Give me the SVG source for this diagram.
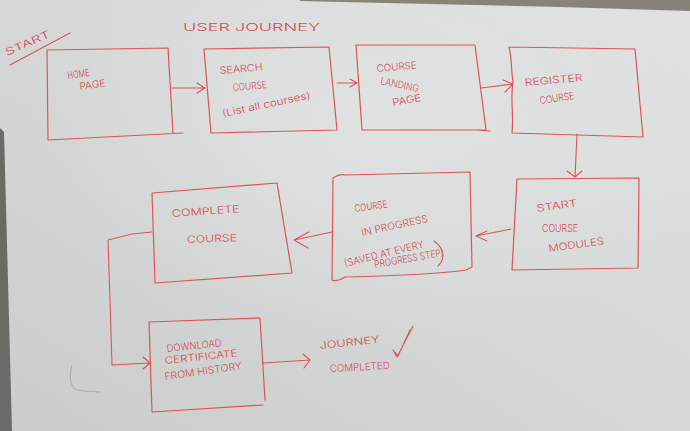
<svg xmlns="http://www.w3.org/2000/svg" width="690" height="431" viewBox="0 0 690 431">
  <defs>
    <linearGradient id="board" x1="0" y1="1" x2="1" y2="0">
      <stop offset="0" stop-color="#cbcccb"/>
      <stop offset="0.5" stop-color="#d6d8d8"/>
      <stop offset="1" stop-color="#e0e1e0"/>
    </linearGradient>
    <radialGradient id="glow" cx="0.55" cy="0.3" r="0.5">
      <stop offset="0" stop-color="#e4e5e5" stop-opacity="0.7"/>
      <stop offset="1" stop-color="#e4e5e5" stop-opacity="0"/>
    </radialGradient>
    <style>
      .box { fill: none; stroke: #dc5459; stroke-width: 1.2; stroke-linejoin: round; stroke-linecap: round; }
      .ln { fill: none; stroke: #dc5459; stroke-width: 1.1; stroke-linecap: round; stroke-linejoin: round; }
      .t { font-family: Inter, "Liberation Sans", "DejaVu Sans", sans-serif; font-weight: 300; fill: #d44a50; font-size: 10px; }
    </style>
  </defs>

  <!-- whiteboard -->
  <rect x="0" y="0" width="690" height="431" fill="url(#board)"/>
  <rect x="0" y="0" width="690" height="431" fill="url(#glow)"/>
  <polygon points="300,0 690,0 690,11 560,7 430,4 300,1" fill="#85837a"/>
  <polygon points="0,128 4,132 12,431 0,431" fill="#6a6b66"/>
  <path d="M72,365 C69,378 70,388 78,390 C84,392 92,391 100,392" fill="none" stroke="#8a92a4" stroke-width="1" opacity="0.6"/>

  <!-- titles -->
  <text class="t" x="183" y="31" font-size="20" textLength="137" lengthAdjust="spacingAndGlyphs">USER JOURNEY</text>
  <text class="t" x="0" y="0" font-size="15" textLength="48" lengthAdjust="spacingAndGlyphs" transform="translate(7,56) rotate(-24)">START</text>
  <path class="ln" d="M10,65 L70,33"/>

  <!-- connectors -->
  <g id="connectors">
    <path class="ln" d="M172,88 L205,88 M197,83 L205,88 L197,93"/>
    <path class="ln" d="M337,83 L357,83 M350,79 L357,83 L350,87"/>
    <path class="ln" d="M481,88 L513,84 M503,80 L513,84 L505,92"/>
    <path class="ln" d="M577,134 L575,177 M567,171 L575,177 L582,171"/>
    <path class="ln" d="M511,229 L476,236 M487,231 L476,236 L487,241"/>
    <path class="ln" d="M332,232 L294,240 M309,232 L294,240 L308,248"/>
    <path class="ln" d="M152,232 L132,234 L108,240 L110,300 L112,365 L150,363 M143,357 L150,363 L143,369"/>
    <path class="ln" d="M263,363 L310,360 M303,354 L310,360 L304,368"/>
  </g>

  <!-- nodes -->
  <g id="home">
    <path class="box" d="M47,50 L168,48 L173,133 M47,50 L48,140 L183,133"/>
    <text class="t" font-size="8" transform="translate(68,79) rotate(-8)" textLength="22" lengthAdjust="spacingAndGlyphs">HOME</text>
    <text class="t" font-size="8" transform="translate(80,90) rotate(-8)" textLength="26" lengthAdjust="spacingAndGlyphs">PAGE</text>
  </g>

  <g id="search">
    <path class="box" d="M204,49 L329,47 L337,130 L211,133 L204,49"/>
    <text class="t" transform="translate(220,74) rotate(-5)" textLength="43" lengthAdjust="spacingAndGlyphs">SEARCH</text>
    <text class="t" transform="translate(233,91) rotate(-5)" textLength="34" lengthAdjust="spacingAndGlyphs">COURSE</text>
    <text class="t" transform="translate(223,117) rotate(-12)" textLength="90" lengthAdjust="spacingAndGlyphs">(List all courses)</text>
  </g>

  <g id="landing">
    <path class="box" d="M356,45 L475,45 L486,130 L362,130 Z M477,130 L490,131"/>
    <text class="t" transform="translate(377,72) rotate(-5)" textLength="40" lengthAdjust="spacingAndGlyphs">COURSE</text>
    <text class="t" transform="translate(380,84) rotate(12)" textLength="39" lengthAdjust="spacingAndGlyphs">LANDING</text>
    <text class="t" transform="translate(393,106) rotate(-10)" textLength="29" lengthAdjust="spacingAndGlyphs">PAGE</text>
  </g>

  <g id="register">
    <path class="box" d="M509,47 L635,49 L643,137 L512,133 C514,115 510,98 513,82 C511,70 512,58 509,47"/>
    <text class="t" font-size="12" transform="translate(525,86) rotate(-5)" textLength="58" lengthAdjust="spacingAndGlyphs">REGISTER</text>
    <text class="t" transform="translate(540,104) rotate(-8)" textLength="35" lengthAdjust="spacingAndGlyphs">COURSE</text>
  </g>

  <g id="modules">
    <path class="box" d="M517,179 L639,178 L638,268 L512,270 L517,179"/>
    <text class="t" font-size="11" transform="translate(537,212) rotate(-8)" textLength="41" lengthAdjust="spacingAndGlyphs">START</text>
    <text class="t" transform="translate(542,232)" textLength="36" lengthAdjust="spacingAndGlyphs">COURSE</text>
    <text class="t" transform="translate(549,252) rotate(-8)" textLength="56" lengthAdjust="spacingAndGlyphs">MODULES</text>
  </g>

  <g id="progress">
    <path class="box" d="M333,178 C338,175 342,174 345,175 L470,172 L472,267 L466,270 C440,274 390,276 345,277 C340,280 336,282 332,280 L333,178"/>
    <text class="t" transform="translate(355,212) rotate(-8)" textLength="33" lengthAdjust="spacingAndGlyphs">COURSE</text>
    <text class="t" transform="translate(362,236) rotate(-12)" textLength="68" lengthAdjust="spacingAndGlyphs">IN PROGRESS</text>
    <text class="t" font-size="9" transform="translate(345,267) rotate(-14)" textLength="82" lengthAdjust="spacingAndGlyphs">(SAVED AT EVERY</text>
    <text class="t" font-size="7" transform="translate(375,268) rotate(-10)" textLength="70" lengthAdjust="spacingAndGlyphs">PROGRESS STEP)</text>
    <path class="ln" d="M434,241 C444,248 446,258 438,266"/>
  </g>

  <g id="complete">
    <path class="box" d="M152,193 L277,183 L292,273 L155,283 L152,193"/>
    <text class="t" font-size="11" transform="translate(172,217) rotate(-4)" textLength="68" lengthAdjust="spacingAndGlyphs">COMPLETE</text>
    <text class="t" font-size="11" transform="translate(187,243) rotate(-2)" textLength="50" lengthAdjust="spacingAndGlyphs">COURSE</text>
  </g>

  <g id="download">
    <path class="box" d="M149,322 L260,318 L265,400 M149,322 L152,412 L263,405"/>
    <text class="t" font-size="8" transform="translate(167,352) rotate(-6)" textLength="55" lengthAdjust="spacingAndGlyphs">DOWNLOAD</text>
    <text class="t" font-size="8" transform="translate(165,364) rotate(-6)" textLength="73" lengthAdjust="spacingAndGlyphs">CERTIFICATE</text>
    <text class="t" font-size="8" transform="translate(165,380) rotate(-8)" textLength="78" lengthAdjust="spacingAndGlyphs">FROM HISTORY</text>
  </g>

  <g id="journey">
    <text class="t" transform="translate(320,349) rotate(-6)" textLength="60" lengthAdjust="spacingAndGlyphs">JOURNEY</text>
    <text class="t" font-size="8" transform="translate(330,372) rotate(-3)" textLength="60" lengthAdjust="spacingAndGlyphs">COMPLETED</text>
    <path class="ln" d="M393,350 L397,357 L413,326 M395,352 L398,356 L410,330"/>
  </g>
</svg>
